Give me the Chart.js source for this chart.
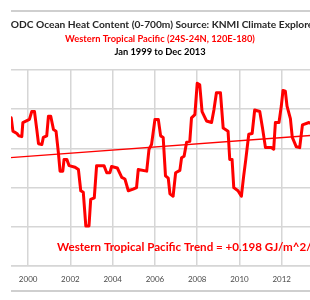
<!DOCTYPE html>
<html>
<head>
<meta charset="utf-8">
<script src="https://cdn.jsdelivr.net/npm/chart.js@4"></script>
<style>
    body { margin: 0; background: #fff; }
    #frame {
        position: absolute; left: 11px; top: 10px; width: 299px; height: 282px;
        overflow: hidden; box-sizing: border-box;
        border-top: 2px solid #cfcfcf; border-bottom: 2px solid #cfcfcf;
    }
    #wrap { position: absolute; left: -51px; top: 0; width: 400px; height: 278px; }
</style>
</head>
<body>
<div id="frame"><div id="wrap"><canvas id="ohc"></canvas></div></div>
<script>
// ===== data (decimal year, GJ/m^2 anomaly)
const years = [1999.00, 1999.20, 1999.28, 1999.47, 1999.56, 1999.70, 1999.75, 2000.06, 2000.17, 2000.30,
    2000.41, 2000.49, 2000.65, 2000.72, 2000.88, 2000.96, 2001.07, 2001.20, 2001.32, 2001.43,
    2001.51, 2001.64, 2001.70, 2001.83, 2001.94, 2002.22, 2002.38, 2002.49, 2002.61, 2002.73,
    2002.88, 2002.96, 2003.13, 2003.24, 2003.59, 2003.72, 2003.87, 2003.95, 2004.22, 2004.43,
    2004.58, 2004.74, 2004.97, 2005.13, 2005.21, 2005.61, 2005.72, 2005.84, 2006.00, 2006.16,
    2006.27, 2006.39, 2006.50, 2006.63, 2006.71, 2006.86, 2006.98, 2007.18, 2007.26, 2007.38,
    2007.50, 2007.65, 2007.73, 2007.89, 2008.00, 2008.12, 2008.23, 2008.44, 2008.68, 2008.79,
    2008.91, 2009.10, 2009.23, 2009.46, 2009.54, 2009.65, 2009.73, 2009.93, 2010.09, 2010.20,
    2010.30, 2010.44, 2010.60, 2010.72, 2010.96, 2011.09, 2011.23, 2011.51, 2011.62, 2011.70,
    2011.87, 2011.98, 2012.06, 2012.17, 2012.25, 2012.41, 2012.50, 2012.69, 2012.85, 2012.98,
    2013.29, 2013.55, 2013.92];
const heat = [0.40, 0.39, 0.22, 0.19, 0.16, 0.15, 0.33, 0.37, 0.47, 0.47,
    0.24, 0.06, 0.05, 0.14, 0.16, 0.41, 0.41, 0.24, 0.22, -0.05,
    -0.29, -0.29, -0.14, -0.14, -0.22, -0.24, -0.27, -0.54, -0.56, -0.99,
    -0.99, -0.65, -0.63, -0.22, -0.22, -0.31, -0.31, -0.23, -0.25, -0.37,
    -0.39, -0.54, -0.52, -0.50, -0.27, -0.29, -0.01, 0.05, 0.37, 0.37,
    0.16, 0.14, -0.35, -0.38, -0.58, -0.61, -0.31, -0.28, -0.12, -0.10,
    0.08, 0.09, 0.39, 0.43, 0.83, 0.81, 0.47, 0.35, 0.33, 0.49,
    0.71, 0.71, 0.26, 0.22, -0.14, -0.14, -0.50, -0.54, -0.61, -0.35,
    -0.14, 0.18, 0.19, 0.49, 0.47, 0.26, 0.01, 0.01, -0.01, 0.33,
    0.33, 0.54, 0.74, 0.73, 0.54, 0.38, 0.14, 0.02, 0.01, 0.30,
    0.33, 0.30, 0.26];
// linear trend end points
const trendYears = [1999.0, 2014.0];
const trendValues = [-0.12, 0.177];
// x tick labels
const tickYears = [2000, 2002, 2004, 2006, 2008, 2010, 2012];
// texts
const titleLines = [
    'NODC Ocean Heat Content (0-700m) Source: KNMI Climate Explorer',
    'Western Tropical Pacific (24S-24N, 120E-180)',
    'Jan 1999 to Dec 2013'
];
const titleColors = ['#262626', '#ff0000', '#000000'];
const titleSizes = [10.2, 9.3, 9.3];
const trendLabel = 'Western Tropical Pacific Trend = +0.198 GJ/m^2/decade';

const red = '#ff0000';
const gridColor = '#d6d6d6';

// draw the 3 title lines + trend label
const textPlugin = {
    id: 'texts',
    afterDraw: (chart) => {
        const c = chart.ctx;
        c.save();
        c.textAlign = 'center';
        c.textBaseline = 'middle';
        const ys = [13, 27, 40];
        for (let i = 0; i < titleLines.length; i++) {
            c.font = 'bold ' + titleSizes[i] + 'px Lato';
            c.fillStyle = titleColors[i];
            c.fillText(titleLines[i], chart.width / 2, ys[i]);
        }
        c.textAlign = 'left';
        c.fillStyle = red;
        c.font = 'bold 11.6px Lato';
        c.fillText(trendLabel, chart.chartArea.left + 50, chart.chartArea.bottom - 19);
        c.restore();
    }
};

new Chart(document.querySelector('#ohc'), {
    type: 'line',
    data: {
        datasets: [{
            data: years.map((y, i) => ({x: y, y: heat[i]})),
            borderColor: red,
            borderWidth: 3,
            borderJoinStyle: 'round',
            pointRadius: 0,
            tension: 0
        }, {
            data: trendYears.map((y, i) => ({x: y, y: trendValues[i]})),
            borderColor: red,
            borderWidth: 1.3,
            pointRadius: 0
        }]
    },
    options: {
        responsive: true,
        maintainAspectRatio: false,
        animation: false,
        layout: { padding: { top: 58, left: 47, right: 36, bottom: 0 } },
        plugins: {
            legend: { display: false },
            tooltip: { enabled: false }
        },
        scales: {
            x: {
                type: 'linear',
                min: 1999,
                max: 2014,
                afterBuildTicks: (scale) => { scale.ticks = tickYears.map(v => ({value: v})); },
                afterFit: (scale) => { scale.height = 24; },
                grid: { color: gridColor, lineWidth: 1.5, drawTicks: false },
                border: { color: gridColor, width: 1.5 },
                ticks: {
                    autoSkip: false,
                    maxRotation: 0,
                    padding: 9,
                    color: '#4a4a4a',
                    font: { family: 'Lato', size: 8 },
                    callback: (v) => String(v)
                }
            },
            y: {
                min: -1.5,
                max: 1.0,
                afterFit: (scale) => { scale.width = 0; },
                grid: { color: gridColor, lineWidth: 1.5, drawTicks: false },
                border: { display: false },
                ticks: { display: false, stepSize: 0.5 }
            }
        }
    },
    plugins: [textPlugin]
});
</script>
</body>
</html>
